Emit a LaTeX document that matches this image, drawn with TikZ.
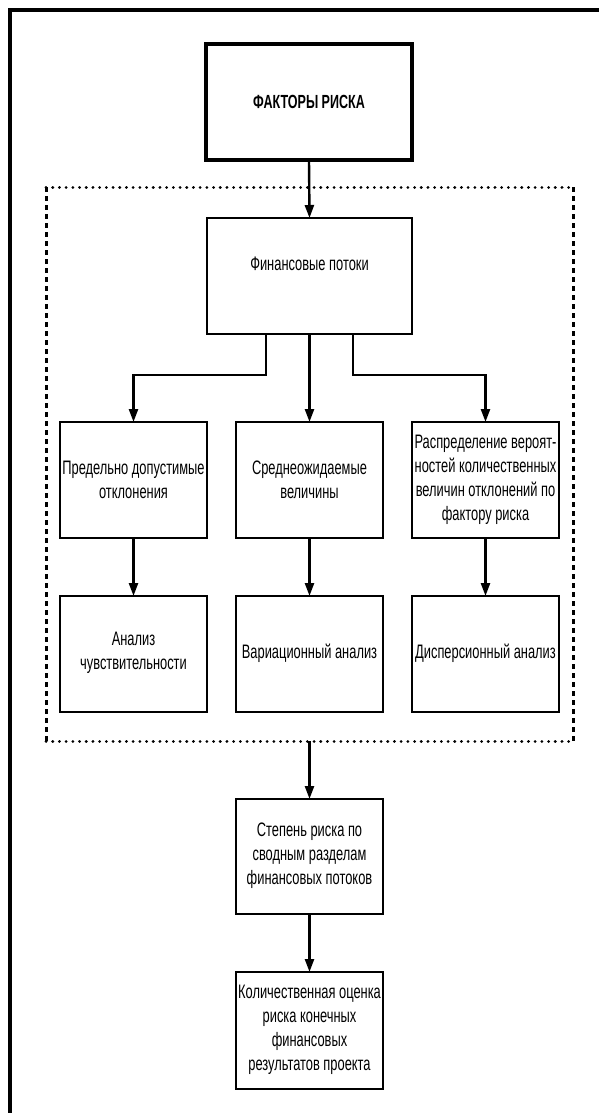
\documentclass[tikz,border=0pt]{standalone}
\usepackage{fontspec}
\setmainfont{Liberation Sans}[FakeStretch=0.66]
\usetikzlibrary{arrows.meta}
\begin{document}
\begin{tikzpicture}[x=1pt,y=-1pt,
  box/.style={draw,line width=2.4pt},
  txt/.style={align=center,font=\fontsize{19.5}{24}\selectfont,inner sep=0pt},
  arr/.style={line width=2.4pt,-{Triangle[length=13pt,width=9pt]}},
  dotline/.style={line width=3pt,line cap=round,dash pattern=on 0.1pt off 6.6pt},
  dashline/.style={line width=3pt,dash pattern=on 5pt off 4pt}]
\useasboundingbox (0,0) rectangle (598,1113);
% outer frame (only top and left visible)
\draw[line width=4pt] (10,1120) -- (10,10) -- (610,10);
% dotted group frame
\coordinate (fTL) at (46,187);
\coordinate (fTR) at (573,187);
\coordinate (fBR) at (573,741);
\coordinate (fBL) at (46,741);
\draw[dotline] (fTL) -- (fTR);
\draw[dotline] (fBL) -- (fBR);
\draw[dashline] (fTL) -- (fBL);
\draw[dashline] (fTR) -- (fBR);
% boxes
\draw[box,line width=3.8pt] (206,44) rectangle (412,160);
\node[txt,font=\fontsize{19}{20}\bfseries\selectfont] (top) at (309,102) {ФАКТОРЫ РИСКА};
\coordinate (topB) at (309,160);
\draw[box] (207,218) rectangle (412,334);
\node[txt] (fin) at (309.5,264) {Финансовые потоки};
\coordinate (finT) at (309.5,218);
\coordinate (finBL) at (266,334);
\coordinate (finBC) at (309.5,334);
\coordinate (finBR) at (353,334);
% row 1
\draw[box] (60,422) rectangle (207,538);
\draw[box] (236,422) rectangle (383,538);
\draw[box] (412,422) rectangle (559,538);
\node[txt] (a1) at (133.5,480) {Предельно допустимые\\отклонения};
\node[txt] (b1) at (309.5,480) {Среднеожидаемые\\величины};
\node[txt] (c1) at (485.5,480) {Распределение вероят-\\ностей количественных\\величин отклонений по\\фактору риска};
\coordinate (a1T) at (133.5,422);
\coordinate (b1T) at (309.5,422);
\coordinate (c1T) at (485.5,422);
\coordinate (a1B) at (133.5,538);
\coordinate (b1B) at (309.5,538);
\coordinate (c1B) at (485.5,538);
% row 2
\draw[box] (60,596) rectangle (207,712);
\draw[box] (236,596) rectangle (383,712);
\draw[box] (412,596) rectangle (559,712);
\node[txt] (a2) at (133.5,653) {Анализ\\чувствительности};
\node[txt] (b2) at (309.5,653) {Вариационный анализ};
\node[txt] (c2) at (485.5,653) {Дисперсионный анализ};
\coordinate (a2T) at (133.5,596);
\coordinate (b2T) at (309.5,596);
\coordinate (c2T) at (485.5,596);
% bottom boxes
\draw[box] (236,799) rectangle (383,914);
\node[txt] (s) at (309.5,856) {Степень риска по\\сводным разделам\\финансовых потоков};
\draw[box] (236,972) rectangle (383,1089);
\node[txt] (k) at (309.5,1030) {Количественная оценка\\риска конечных\\финансовых\\результатов проекта};
\coordinate (fB) at (309.5,741);
\coordinate (sT) at (309.5,799);
\coordinate (sB) at (309.5,914);
\coordinate (kT) at (309.5,972);
% connectors
\draw[arr] (topB) -- (finT);
\draw[arr] (finBL) |- (200,375) -| (a1T);
\draw[arr] (finBC) -- (b1T);
\draw[arr] (finBR) |- (420,375) -| (c1T);
\draw[arr] (a1B) -- (a2T);
\draw[arr] (b1B) -- (b2T);
\draw[arr] (c1B) -- (c2T);
\draw[arr] (fB) -- (sT);
\draw[arr] (sB) -- (kT);
\end{tikzpicture}
\end{document}
